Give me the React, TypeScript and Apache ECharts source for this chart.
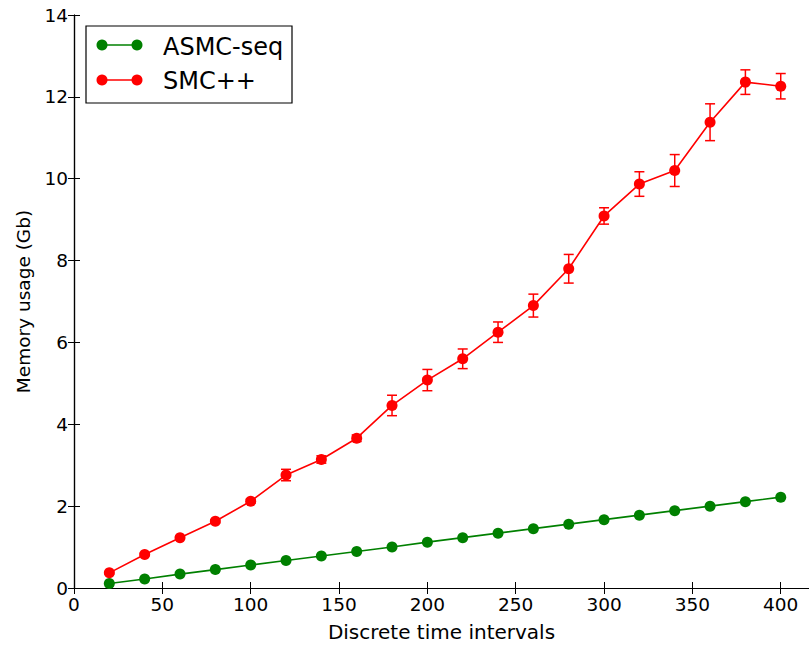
import React, { useEffect, useRef } from "react";
import * as echarts from "echarts";

const intervals = [20, 40, 60, 80, 100, 120, 140, 160, 180, 200, 220, 240, 260, 280, 300, 320, 340, 360, 380, 400];
const asmcSeq = [0.11, 0.22, 0.34, 0.45, 0.56, 0.67, 0.78, 0.89, 1.0, 1.12, 1.23, 1.34, 1.45, 1.56, 1.67, 1.78, 1.89, 2.0, 2.11, 2.22];
const smcpp = [0.37, 0.82, 1.23, 1.63, 2.12, 2.76, 3.14, 3.66, 4.46, 5.08, 5.6, 6.25, 6.9, 7.8, 9.09, 9.87, 10.2, 11.38, 12.36, 12.26];
const smcppErr = [0.03, 0.03, 0.03, 0.04, 0.05, 0.14, 0.09, 0.08, 0.25, 0.26, 0.24, 0.25, 0.28, 0.35, 0.2, 0.3, 0.39, 0.45, 0.3, 0.31];
const legendNames = ["ASMC-seq", "SMC++"];
const xTitle = "Discrete time intervals";
const yTitle = "Memory usage (Gb)";

const FONT = "DejaVu Sans";
const GREEN = "#008000";
const RED = "#ff0000";

export default function App() {
  const ref = useRef<HTMLDivElement>(null);
  useEffect(() => {
    if (!ref.current) return;
    const chart = echarts.init(ref.current, undefined, { renderer: "svg" });
    const errData = intervals.map((x, i) => [x, smcpp[i] - smcppErr[i], smcpp[i] + smcppErr[i]]);
    const tickStyle = { inside: true, length: 6, lineStyle: { color: "#000", width: 1 } };
    const lineAxis = { lineStyle: { color: "#000", width: 1.2 } };
    const option: any = {
      animation: false,
      backgroundColor: "#fff",
      grid: { left: 74, right: 0, top: 15, bottom: 58, containLabel: false },
      xAxis: [
        {
          type: "value",
          min: 0,
          max: 416,
          interval: 50,
          name: xTitle,
          nameLocation: "middle",
          nameGap: 34,
          nameTextStyle: { fontFamily: FONT, fontSize: 20, color: "#000" },
          axisLine: lineAxis,
          axisTick: tickStyle,
          axisLabel: { fontFamily: FONT, fontSize: 18.5, color: "#000", margin: 7, showMaxLabel: false },
          splitLine: { show: false },
        },
        {
          type: "value",
          position: "top",
          min: 0,
          max: 416,
          interval: 50,
          axisLine: lineAxis,
          axisTick: tickStyle,
          axisLabel: { show: false },
          splitLine: { show: false },
        },
      ],
      yAxis: [
        {
          type: "value",
          min: 0,
          max: 14,
          interval: 2,
          name: yTitle,
          nameLocation: "middle",
          nameGap: 41,
          nameTextStyle: { fontFamily: FONT, fontSize: 18.5, color: "#000" },
          axisLine: lineAxis,
          axisTick: tickStyle,
          axisLabel: { fontFamily: FONT, fontSize: 18.5, color: "#000", margin: 6 },
          splitLine: { show: false },
        },
        {
          type: "value",
          position: "right",
          min: 0,
          max: 14,
          interval: 2,
          axisLine: lineAxis,
          axisTick: tickStyle,
          axisLabel: { show: false },
          splitLine: { show: false },
        },
      ],
      series: [
        {
          name: legendNames[0],
          type: "line",
          data: intervals.map((x, i) => [x, asmcSeq[i]]),
          symbol: "circle",
          symbolSize: 11,
          itemStyle: { color: GREEN },
          lineStyle: { color: GREEN, width: 1.6 },
          z: 3,
        },
        {
          name: "err",
          type: "custom",
          data: errData,
          renderItem: (params: any, api: any) => {
            const x = api.value(0);
            const lo = api.coord([x, api.value(1)]);
            const hi = api.coord([x, api.value(2)]);
            const cap = 5;
            const style = { stroke: RED, lineWidth: 1.5 };
            return {
              type: "group",
              children: [
                { type: "line", shape: { x1: lo[0], y1: lo[1], x2: hi[0], y2: hi[1] }, style },
                { type: "line", shape: { x1: lo[0] - cap, y1: lo[1], x2: lo[0] + cap, y2: lo[1] }, style },
                { type: "line", shape: { x1: hi[0] - cap, y1: hi[1], x2: hi[0] + cap, y2: hi[1] }, style },
              ],
            };
          },
          z: 4,
        },
        {
          name: legendNames[1],
          type: "line",
          data: intervals.map((x, i) => [x, smcpp[i]]),
          symbol: "circle",
          symbolSize: 11,
          itemStyle: { color: RED },
          lineStyle: { color: RED, width: 1.6 },
          z: 5,
        },
      ],
      graphic: [
        {
          type: "rect",
          shape: { x: 86, y: 26, width: 206, height: 77 },
          style: { fill: "#fff", stroke: "#000", lineWidth: 1.2 },
          z: 100,
        },
        { type: "line", shape: { x1: 102, y1: 45, x2: 137, y2: 45 }, style: { stroke: GREEN, lineWidth: 1.6 }, z: 101 },
        { type: "circle", shape: { cx: 102, cy: 45, r: 5.5 }, style: { fill: GREEN }, z: 101 },
        { type: "circle", shape: { cx: 137, cy: 45, r: 5.5 }, style: { fill: GREEN }, z: 101 },
        { type: "text", x: 163, y: 47, style: { text: legendNames[0], fontFamily: FONT, fontSize: 24, fill: "#000", verticalAlign: "middle" }, z: 101 },
        { type: "line", shape: { x1: 102, y1: 80, x2: 137, y2: 80 }, style: { stroke: RED, lineWidth: 1.6 }, z: 101 },
        { type: "circle", shape: { cx: 102, cy: 80, r: 5.5 }, style: { fill: RED }, z: 101 },
        { type: "circle", shape: { cx: 137, cy: 80, r: 5.5 }, style: { fill: RED }, z: 101 },
        { type: "text", x: 163, y: 81, style: { text: legendNames[1], fontFamily: FONT, fontSize: 24, fill: "#000", verticalAlign: "middle" }, z: 101 },
      ],
    };
    chart.setOption(option);
    return () => chart.dispose();
  }, []);
  return <div ref={ref} style={{ width: 809, height: 647, position: "absolute", left: 0, top: 0 }} />;
}
